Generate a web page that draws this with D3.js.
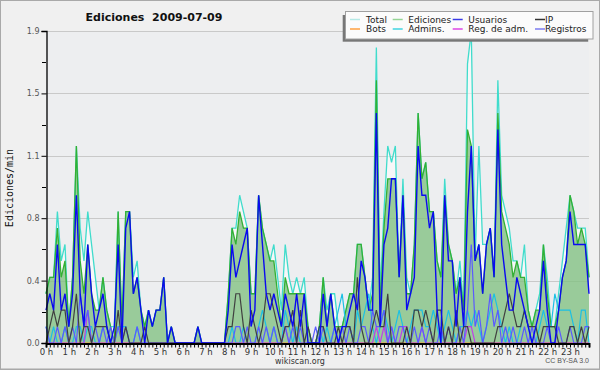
<!DOCTYPE html>
<html><head><meta charset="utf-8">
<script src="https://cdn.jsdelivr.net/npm/d3@7"></script>
<style>
html,body{margin:0;padding:0;background:#f0f0f0;}
svg{display:block;}
text{white-space:pre;}
</style></head><body>
<svg id="c" width="600" height="370"></svg>
<script>
// ---- data: edits per 10-minute bucket (divide by 10 for edits/min), 144 buckets from 0:00 ----
const hourLabels = ["0 h","1 h","2 h","3 h","4 h","5 h","6 h","7 h","8 h","9 h","10 h","11 h","12 h","13 h","14 h","15 h","16 h","17 h","18 h","19 h","20 h","21 h","22 h","23 h"];
const yTickValues = [0, 0.38, 0.76, 1.14, 1.52, 1.9];
const yTickLabels = ["0.0","0.4","0.8","1.1","1.5","1.9"];
const seriesNames = ["Total","Ediciones","Usuarios","IP","Bots","Admins.","Reg. de adm.","Registros"];

const total = [3,4,4,8,5,6,1,4,12,7, 5,8,6,4,2,4,2,1,1,8, 1,8,8,4,5,2,1,2,1,2, 2,4,0,1,0,0,0,0,0,0, 1,0,0,0,0,0,0,0,
 3,7,7,9,8,7,3,3,9,7, 6,5,6,4,2,6,4,3,4,3, 4,1,0,0,1,4,2,3,3,1, 1,2,3,3,6,6,4,2,4,18, 3,8,12,11,12,4,10,4,
 3,6,14,10,11,8,8,5,4,10, 6,5,3,5,2,17,19,5,12,6, 6,7,4,16,9,8,7,5,5,4, 6,2,1,2,3,6,4,1,1,3, 5,7,9,8,7,7,7,4];
const ediciones = [3,4,4,7,4,5,1,4,12,5, 3,6,3,2,2,4,2,1,0,8, 1,8,8,3,4,2,1,2,1,2, 2,4,0,1,0,0,0,0,0,0, 1,0,0,0,0,0,0,0,
 3,7,6,8,7,7,3,3,9,7, 6,5,5,3,1,4,3,3,3,3, 3,1,0,0,1,4,1,3,1,1, 1,2,3,3,6,6,4,2,3,16, 2,7,10,10,10,4,9,3,
 3,6,14,10,11,8,8,5,4,9, 6,5,3,4,2,13,12,5,6,3, 6,7,4,14,8,7,6,4,5,4, 4,2,1,2,2,6,3,1,1,2, 4,5,9,8,6,7,6,4];
const usuarios = [2,3,2,6,2,3,1,3,9,3, 1,6,3,1,2,3,1,0,1,6, 0,7,8,3,4,2,0,2,1,2, 2,4,0,1,0,0,0,0,0,0, 1,0,0,0,0,0,0,0,
 2,6,4,5,6,7,1,2,9,6, 3,2,3,2,1,3,2,1,3,1, 3,0,0,0,0,3,1,3,1,0, 1,1,2,3,2,5,4,2,2,14, 1,6,7,10,10,4,9,2,
 3,4,12,9,9,7,8,2,0,9, 5,5,1,4,1,8,12,5,6,3, 6,7,4,13,6,4,2,2,4,3, 2,1,0,1,2,5,2,0,0,2, 4,5,8,6,6,6,6,3];
const ip = [0,1,2,1,2,2,0,1,3,0, 1,1,0,1,1,1,1,0,0,2, 0,1,0,0,0,0,1,0,0,0, 0,0,0,0,0,0,0,0,0,0, 0,0,0,0,0,0,0,0,
 1,1,3,3,1,0,2,1,0,1, 3,3,2,1,0,1,1,2,0,2, 0,1,0,0,1,1,0,0,0,1, 0,1,1,0,4,1,0,0,1,2, 1,1,3,0,0,0,0,1,
 0,2,2,1,2,1,0,2,2,0, 1,0,2,0,1,1,0,0,0,0, 0,0,0,1,1,2,3,2,1,1, 2,1,1,1,0,1,1,1,1,0, 0,0,1,1,0,1,0,1];
const bots = [0,0,0,0,0,0,0,0,0,0, 0,0,0,0,0,0,0,0,0,0, 0,0,0,0,0,0,0,0,0,0, 0,0,0,0,0,0,0,0,0,0, 0,0,0,0,0,0,0,0,
 0,0,0,0,0,0,0,0,0,0, 0,0,0,0,0,0,0,0,0,0, 0,0,0,0,0,0,0,0,0,0, 0,0,0,0,0,0,0,0,0,0, 0,0,0,0,0,0,0,0,
 0,0,0,0,0,0,0,0,0,0, 0,0,0,0,0,0,0,0,0,0, 0,0,0,0,0,0,0,0,0,0, 0,0,0,0,0,0,0,0,0,0, 0,0,0,0,0,0,0,0];
const admins = [1,0,1,0,0,1,0,0,1,1, 0,1,1,0,0,1,1,0,0,1, 1,1,0,0,1,0,0,0,0,0, 0,0,0,0,0,0,0,0,0,0, 0,0,0,0,0,0,0,0,
 0,1,0,0,1,0,0,0,1,2, 1,0,1,0,0,2,1,0,1,0, 0,0,0,0,1,0,1,0,1,2, 3,1,1,0,2,1,2,3,1,0, 1,2,1,0,1,2,1,0,
 1,2,2,2,1,1,2,1,0,1, 2,1,0,1,1,2,1,2,1,0, 1,2,3,2,1,0,1,0,0,1, 2,1,0,0,1,2,1,1,3,2, 2,2,2,1,0,2,2,0];
const regAdm = [0,0,0,0,0,0,0,0,0,0, 0,2,0,0,0,0,0,0,0,0, 0,0,0,0,0,0,0,0,0,0, 0,0,0,0,0,0,0,0,0,0, 0,0,0,0,0,0,0,0,
 0,0,0,0,0,0,0,0,0,0, 0,0,0,0,0,1,0,0,0,0, 0,0,0,0,0,0,0,0,0,0, 0,0,0,0,0,0,0,0,0,1, 0,1,0,1,0,0,1,1,
 0,0,0,1,0,0,0,0,0,0, 0,0,0,0,0,1,1,0,0,0, 0,0,0,0,0,0,0,0,0,0, 0,0,0,0,0,0,0,0,0,0, 0,0,0,0,0,0,0,0];
const registros = [1,0,0,1,0,1,0,1,0,3, 1,2,0,1,0,1,0,1,0,1, 0,1,0,0,1,0,0,0,0,0, 0,0,0,0,0,0,0,0,0,0, 0,0,0,0,0,0,0,0,
 0,0,1,1,0,1,0,0,1,0, 1,0,1,0,0,1,0,1,0,1, 0,0,0,1,0,1,0,0,1,0, 1,0,1,0,0,1,1,0,2,1, 1,2,0,1,0,1,1,0,
 0,1,0,1,0,1,0,0,1,0, 1,0,0,1,0,2,6,1,2,0, 1,3,1,2,0,1,0,1,0,0, 1,0,1,0,0,0,1,0,0,1, 0,0,1,0,0,0,1,1];

// ---- drawing ----
const svg = d3.select("#c");
const W = 600, H = 370;
const pL = 46, pR = 589, pT = 31, pB = 343;
const x = d3.scaleLinear().domain([0, total.length - 1]).range([pL, pR]);
const y = d3.scaleLinear().domain([0, 1.9]).range([pB, pT]);
const v = d => d / 10;

svg.append("rect").attr("x",0).attr("y",0).attr("width",W).attr("height",H).attr("fill","#f0f0f0");
svg.append("rect").attr("x",0.5).attr("y",0.5).attr("width",W-1).attr("height",H-1.5)
  .attr("fill","none").attr("stroke","#a9a9a9").attr("stroke-width",1);
svg.append("line").attr("x1",0).attr("x2",W).attr("y1",H-0.5).attr("y2",H-0.5).attr("stroke","#a9a9a9");

svg.append("rect").attr("x",pL).attr("y",pT).attr("width",pR-pL).attr("height",pB-pT).attr("fill","#edeef0");

// gridlines
svg.append("g").selectAll("line").data(yTickValues.slice(1)).join("line")
  .attr("x1",pL).attr("x2",pR).attr("y1",d=>Math.round(y(d))+0.5).attr("y2",d=>Math.round(y(d))+0.5)
  .attr("stroke","#c9c9c9").attr("stroke-width",1);

const areaGen = arr => d3.area().x((d,i)=>x(i)).y0(y(0)).y1(d=>y(v(d)))(arr);
const lineGen = arr => d3.line().x((d,i)=>x(i)).y(d=>y(v(d)))(arr);

svg.append("path").attr("d", areaGen(total)).attr("fill","#ffffff").attr("fill-opacity",0.55);
svg.append("path").attr("d", areaGen(ediciones)).attr("fill","#3c9f3c").attr("fill-opacity",0.5);

const lines = [
  {data: total, color: "#40dccc", w: 1.3},
  {data: ediciones, color: "#33b033", w: 1.3},
  {data: bots, color: "#ff9933", w: 1.2},
  {data: admins, color: "#1cc0e4", w: 1.2},
  {data: regAdm, color: "#c040e8", w: 1.2},
  {data: registros, color: "#5a5aff", w: 1.2},
  {data: ip, color: "#404040", w: 1.2},
  {data: usuarios, color: "#0a0af0", w: 1.4}
];
svg.append("g").selectAll("path").data(lines).join("path")
  .attr("d", d => lineGen(d.data)).attr("fill","none")
  .attr("stroke", d => d.color).attr("stroke-width", d => d.w).attr("stroke-linejoin","miter");

// axes
const yAxis = d3.axisLeft(y).tickValues(yTickValues).tickSize(5).tickPadding(2)
  .tickFormat((d,i)=>yTickLabels[i]);
const gy = svg.append("g").attr("transform",`translate(${pL+0.5},0)`).call(yAxis);
gy.select(".domain").attr("stroke","#000").attr("stroke-width",1.3);
gy.selectAll(".tick line").attr("stroke","#000");
gy.selectAll(".tick text").attr("font-family","DejaVu Sans").attr("font-size",8).attr("fill","#555");
const minorY = yTickValues.slice(0,-1).map((d,i)=>(d + yTickValues[i+1]) / 2);
svg.append("g").selectAll("line").data(minorY).join("line")
  .attr("x1",pL-4).attr("x2",pL).attr("y1",d=>Math.round(y(d))+0.5).attr("y2",d=>Math.round(y(d))+0.5)
  .attr("stroke","#000");

const xAxis = d3.axisBottom(x).tickValues(d3.range(0, total.length)).tickSize(4).tickPadding(1)
  .tickFormat(i => i % 6 === 0 ? hourLabels[i/6] : "");
const gx = svg.append("g").attr("transform",`translate(0,${pB+0.5})`).call(xAxis);
gx.select(".domain").attr("stroke","#000").attr("stroke-width",2);
gx.selectAll(".tick line").attr("stroke","#000");
gx.selectAll(".tick text").attr("font-family","DejaVu Sans").attr("font-size",8.5).attr("fill","#333");

// title & labels
svg.append("text").attr("x",154).attr("y",21).attr("text-anchor","middle")
  .attr("font-family","DejaVu Sans").attr("font-weight","bold").attr("font-size",11).attr("fill","#111")
  .text("Ediciones  2009-07-09");
svg.append("text").attr("transform","translate(13,188) rotate(-90)").attr("text-anchor","middle")
  .attr("font-family","DejaVu Sans Mono").attr("font-size",10).attr("fill","#111").text("Ediciones/min");
svg.append("text").attr("x",300).attr("y",364).attr("text-anchor","middle")
  .attr("font-family","DejaVu Sans").attr("font-size",8).attr("fill","#333").text("wikiscan.org");
svg.append("text").attr("x",589).attr("y",363).attr("text-anchor","end")
  .attr("font-family","Liberation Sans").attr("font-size",7).attr("fill","#555").text("CC BY-SA 3.0");

// legend
const legendColors = ["#b5e9e6","#95d495","#3a3ae6","#333333","#ffa040","#40d4e0","#dc44e4","#7b7bf0"];
const colX = [350, 392.7, 452.7, 535];
const txtX = [366, 408.3, 468.3, 545];
const rowY = [19.5, 29];
const lg = svg.append("g");
lg.append("rect").attr("x",342.7).attr("y",15).attr("width",245.5).attr("height",26.7).attr("fill","#777");
lg.append("rect").attr("x",345.5).attr("y",11.5).attr("width",247.5).attr("height",27.5)
  .attr("fill","#fbfbfb").attr("stroke","#a0a0a0");
const items = lg.selectAll("g.item").data(seriesNames).join("g").attr("class","item");
items.append("line")
  .attr("x1",(d,i)=>colX[i%4]).attr("x2",(d,i)=>colX[i%4]+10)
  .attr("y1",(d,i)=>rowY[Math.floor(i/4)]).attr("y2",(d,i)=>rowY[Math.floor(i/4)])
  .attr("stroke",(d,i)=>legendColors[i]).attr("stroke-width",1.5);
items.append("text")
  .attr("x",(d,i)=>txtX[i%4]).attr("y",(d,i)=>rowY[Math.floor(i/4)]+3.3)
  .attr("font-family","DejaVu Sans").attr("font-size",9).attr("fill","#222").text(d=>d);
</script>
</body></html>
